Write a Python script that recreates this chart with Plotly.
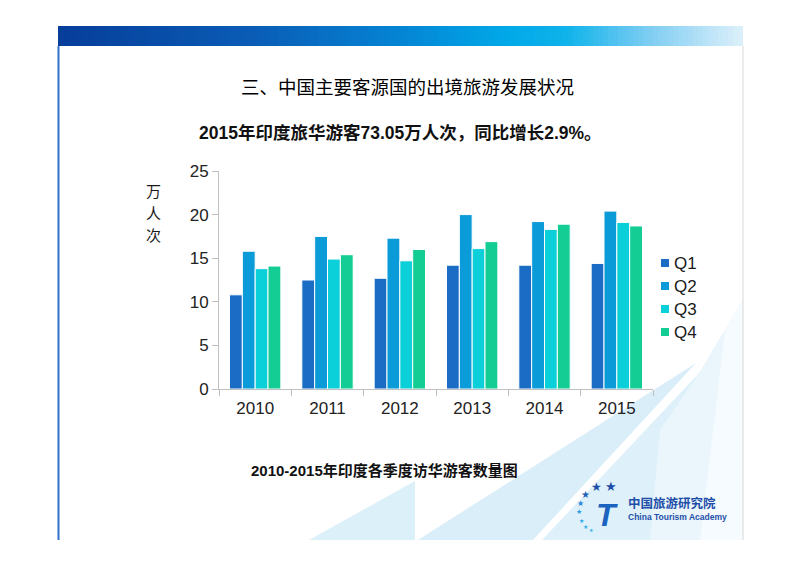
import plotly.graph_objects as go

# data (万人次)
YEARS = ["2010", "2011", "2012", "2013", "2014", "2015"]
QUARTERS = ["Q1", "Q2", "Q3", "Q4"]
Q1 = [10.8, 12.5, 12.7, 14.2, 14.2, 14.4]
Q2 = [15.8, 17.5, 17.3, 20.0, 19.2, 20.4]
Q3 = [13.8, 14.9, 14.7, 16.1, 18.3, 19.1]
Q4 = [14.1, 15.4, 16.0, 16.9, 18.9, 18.7]
Y_TICKS = [0, 5, 10, 15, 20, 25]

TITLE = "三、中国主要客源国的出境旅游发展状况"
SUBTITLE = "2015年印度旅华游客73.05万人次，同比增长2.9%。"
CAPTION = "2010-2015年印度各季度访华游客数量图"
Y_LABEL = "万人次"

COLORS = ["#1a6cc5", "#0a9bd8", "#0bcfd9", "#14cd95"]
FONT = "Liberation Sans, Arial, Noto Sans CJK SC, sans-serif"
CJK = "Noto Sans CJK SC, Liberation Sans, sans-serif"

W, H = 800, 565
L, R, T, B = 219, 147, 171, 176
PW, PH = W - L - R, H - T - B


def px_x(px):
    return (px - L) / PW


def px_y(py):
    return (H - B - py) / PH


def lerp_color(stops, t):
    for (t0, c0), (t1, c1) in zip(stops, stops[1:]):
        if t0 <= t <= t1:
            f = (t - t0) / (t1 - t0) if t1 > t0 else 0
            a = [int(c0[i:i + 2], 16) for i in (1, 3, 5)]
            b = [int(c1[i:i + 2], 16) for i in (1, 3, 5)]
            return "rgb(%d,%d,%d)" % tuple(round(a[k] + (b[k] - a[k]) * f) for k in range(3))
    return stops[-1][1]


def poly(points, color, opacity=1.0):
    path = "M " + " L ".join(f"{px_x(x):.4f},{px_y(y):.4f}" for x, y in points) + " Z"
    return dict(type="path", xref="paper", yref="paper", path=path,
                fillcolor=color, line=dict(width=0), opacity=opacity, layer="below")


def note(text, x, y, font, xanchor="center"):
    return dict(text=text, x=px_x(x), y=px_y(y), xref="paper", yref="paper",
                xanchor=xanchor, yanchor="middle", showarrow=False, font=font)


fig = go.Figure()
for name, vals, col in zip(QUARTERS, [Q1, Q2, Q3, Q4], COLORS):
    fig.add_trace(go.Bar(x=YEARS, y=vals, name=name,
                         marker=dict(color=col, line=dict(color="white", width=1))))

shapes = []

# light swooshes in the lower right of the slide
shapes.append(poly([(309, 540), (415, 481), (415, 540)], "#dcf0fa"))
shapes.append(poly([(418, 540), (533, 540), (696, 363)], "#d9eef9"))
shapes.append(poly([(542, 540), (743, 540), (743, 300), (700, 372)], "#def1fa"))
shapes.append(poly([(650, 540), (743, 540), (743, 300), (700, 372), (660, 430)], "#eaf6fc"))
shapes.append(poly([(700, 540), (743, 540), (743, 300), (725, 330)], "#f5fbfe"))

# gradient header bar
stops = [(0.0, "#063e9a"), (0.28, "#0a5cb5"), (0.5, "#0585d5"), (0.65, "#00a8e8"),
         (0.74, "#10b3ea"), (0.86, "#7fcdf2"), (1.0, "#e0f1fb")]
x0, x1, step = 58, 743, 5
for i in range(x0, x1, step):
    t = (i - x0) / (x1 - x0)
    shapes.append(dict(type="rect", xref="paper", yref="paper",
                       x0=px_x(i), x1=px_x(min(i + step + 0.6, x1)), y0=px_y(46), y1=px_y(26),
                       fillcolor=lerp_color(stops, t), line=dict(width=0), layer="below"))

# slide frame lines
shapes.append(dict(type="line", xref="paper", yref="paper", x0=px_x(58.5), x1=px_x(58.5),
                   y0=px_y(46), y1=px_y(540), line=dict(color="#2f72cc", width=2), layer="below"))
shapes.append(dict(type="line", xref="paper", yref="paper", x0=px_x(743), x1=px_x(743),
                   y0=px_y(46), y1=px_y(540), line=dict(color="#d8d8d8", width=1), layer="below"))

annotations = []

# legend
for i, (q, col) in enumerate(zip(QUARTERS, COLORS)):
    yc = 263 + 23 * i
    shapes.append(dict(type="rect", xref="paper", yref="paper",
                       x0=px_x(661), x1=px_x(669), y0=px_y(yc + 4), y1=px_y(yc - 4),
                       fillcolor=col, line=dict(width=0)))
    annotations.append(note(q, 672, yc, dict(family=FONT, size=17, color="#1a1a1a"), "left"))

# texts
annotations += [
    note(TITLE, 407, 86, dict(family=CJK, size=18.5, color="#000000")),
    note("<b>" + SUBTITLE + "</b>", 400, 133, dict(family=FONT, size=17.5, color="#111111")),
    note("<b>" + CAPTION + "</b>", 384, 470, dict(family=FONT, size=15, color="#111111")),
]
for ch, cy in zip(Y_LABEL, [190, 212, 234]):
    annotations.append(note(ch, 153, cy, dict(family=CJK, size=15, color="#1a1a1a")))

# logo
stars = [(585, 494, 10, "#1e5fb8"), (596, 487, 12, "#1e4fa8"), (611, 486, 13, "#1e4fa8"),
         (580, 503, 8, "#2b86d6"), (579, 512, 7, "#2b9ce0"), (581, 520, 6, "#2ba6e4"),
         (585, 526, 6, "#35b0e8"), (591, 530, 5, "#35b0e8")]
for sx, sy, ss, sc in stars:
    annotations.append(note("★", sx, sy, dict(family="DejaVu Sans", size=ss, color=sc)))
annotations += [
    note("<b>T</b>", 607, 515, dict(family="Liberation Sans", size=32, color="#1b63c0",
                                    style="italic")),
    note("<b>中国旅游研究院</b>", 626, 502, dict(family=CJK, size=12.5, color="#1e4fa8"), "left"),
    note("<b>China Tourism Academy</b>", 626, 517,
         dict(family=FONT, size=8.5, color="#1e4fa8"), "left"),
]

fig.update_layout(
    width=W, height=H,
    margin=dict(l=L, r=R, t=T, b=B, pad=0),
    paper_bgcolor="white", plot_bgcolor="rgba(0,0,0,0)",
    barmode="group", bargap=0.29, bargroupgap=0,
    showlegend=False,
    shapes=shapes, annotations=annotations,
)
fig.update_xaxes(type="category", showline=True, linecolor="#bfbfbf", linewidth=1,
                 ticks="outside", tickson="boundaries", ticklen=6, tickcolor="#bfbfbf",
                 showgrid=False, ticklabelstandoff=4,
                 tickfont=dict(family=FONT, size=17, color="#222222"))
fig.update_yaxes(range=[0, 25], tickvals=Y_TICKS, showline=True, linecolor="#bfbfbf",
                 linewidth=1, ticks="outside", ticklen=6, tickcolor="#bfbfbf",
                 showgrid=False, zeroline=False,
                 tickfont=dict(family=FONT, size=17, color="#222222"))

# the page body has a default 8px margin; drop it so pixel positions line up
fig.write_html("out.html", config={"displayModeBar": False},
               post_script="document.body.style.margin='0px';")
